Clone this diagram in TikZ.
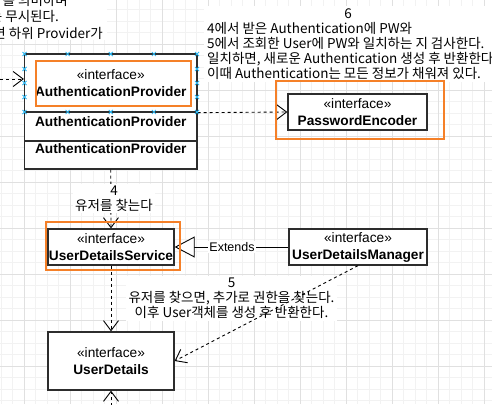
\documentclass[tikz,border=0pt]{standalone}
\usepackage{fontspec}
\setmainfont{Liberation Sans}
\newfontfamily\kr{Noto Sans CJK KR}
\usetikzlibrary{arrows.meta}
\definecolor{orng}{RGB}{245,128,40}
\definecolor{hnd}{RGB}{41,182,242}
\definecolor{gmin}{RGB}{242,242,242}
\definecolor{gmaj}{RGB}{224,224,224}
\definecolor{bord}{RGB}{45,45,45}
\begin{document}
\begin{tikzpicture}[x=1pt,y=-1pt,
  umlbox/.style={draw=bord, line width=1.3pt, fill=white, align=center, inner sep=0pt, font=\fontsize{13.7}{17}\selectfont},
  boxtext/.style={inner sep=0pt, font=\fontsize{13.7}{17}\selectfont\bfseries},
  hl/.style={draw=orng, line width=2pt, inner sep=0pt},
  lbl/.style={fill=white, inner sep=2pt, align=center, font=\kr\fontsize{13.5}{14.8}\selectfont},
  krtext/.style={inner sep=0pt, font=\kr\fontsize{13.5}{14.8}\selectfont},
  bgbox/.style={fill=white, inner sep=0pt},
  dasharrow/.style={draw=black, line width=0.9pt, dash pattern=on 3pt off 3pt, -{Straight Barb[length=10pt,width=15pt,line width=0.9pt]}},
  extends/.style={draw=black, line width=0.9pt, -{Triangle[open, length=20pt, width=21pt, line width=0.9pt, fill=white]}},
  handle/.style={draw=hnd, line width=0.8pt},
]
\path[use as bounding box] (0,0) rectangle (492,404);
\clip (0,0) rectangle (492,404);
\fill[white] (0,0) rectangle (492,404);
% grid
\foreach \i in {0,...,44} {\draw[gmin, line width=0.8pt] ({-21.7+11.5*\i},0) -- ({-21.7+11.5*\i},404);}
\foreach \i in {0,...,36} {\draw[gmin, line width=0.8pt] (0,{-1.7+11.5*\i}) -- (492,{-1.7+11.5*\i});}
\foreach \i in {0,...,11} {\draw[gmaj, line width=0.8pt] ({-21.7+46*\i},0) -- ({-21.7+46*\i},404);}
\foreach \i in {0,...,9} {\draw[gmaj, line width=0.8pt] (0,{-1.7+46*\i}) -- (492,{-1.7+46*\i});}

% top-left partial text
\node[bgbox, anchor=north west, minimum width=107pt, minimum height=40pt] (tlbg) at (0,0) {};
\node[krtext, anchor=base east] (tl1) at (68,5.5) {를 의미하며};
\node[krtext, anchor=base east] (tl2) at (59,22) {는 무시된다.};
\node[krtext, anchor=base east] (tl3) at (103,38.5) {면 하위 Provider가};

% label 6
\node[bgbox, anchor=north west, minimum width=288pt, minimum height=76pt] (l6bg) at (204,6) {};
\node[krtext, anchor=base] (l6n) at (348,19) {6};
\node[krtext, anchor=base west] (l6a) at (207,34) {4에서 받은 Authentication에 PW와};
\node[krtext, anchor=base west] (l6b) at (207,48.8) {5에서 조회한 User에 PW와 일치하는 지 검사한다.};
\node[krtext, anchor=base west] (l6c) at (207,63.6) {일치하면, 새로운 Authentication 생성 후 반환한다.};
\node[krtext, anchor=base west] (l6d) at (207,78.4) {이때 Authentication는 모든 정보가 채워져 있다.};

% AuthenticationProvider
\node[umlbox, minimum width=172.5pt, minimum height=58pt] (ap1) at (110.75,83) {«interface»\\\textbf{AuthenticationProvider}};
\node[umlbox, minimum width=172.5pt, minimum height=29pt] (ap2) at (110.75,126.5) {};
\node[umlbox, minimum width=172.5pt, minimum height=28pt] (ap3) at (110.75,155) {};
\node[boxtext] (ap2t) at (110.75,122) {AuthenticationProvider};
\node[boxtext] (ap3t) at (110.75,149) {AuthenticationProvider};

% other classes
\node[umlbox, minimum width=139pt, minimum height=36pt] (pe) at (357.5,112) {«interface»\\\textbf{PasswordEncoder}};
\node[umlbox, minimum width=126pt, minimum height=36pt] (uds) at (111,247) {«interface»\\\textbf{UserDetailsService}};
\node[umlbox, minimum width=138pt, minimum height=36pt] (udm) at (358,247) {«interface»\\\textbf{UserDetailsManager}};
\node[umlbox, minimum width=126pt, minimum height=58pt] (ud) at (111,361) {«interface»\\\textbf{UserDetails}};

% label 5 (under its crossing connector)
\node[lbl, inner xsep=3pt] (l5) at (231.5,298.5) {5\\유저를 찾으면, 추가로 권한을 찾는다.\\이후 User객체를 생성 후 반환한다.};

% connectors
\coordinate (lin) at (0,79);
\draw[dasharrow] (lin) -- (lin -| ap1.west);
\draw[dasharrow] (ap1.south east) -- (pe.west);
\draw[dasharrow] (ap3.south) -- (uds.north);
\draw[dasharrow] (uds.south) -- (ud.north);
\draw[extends] (udm.west) -- (uds.east);
\draw[dasharrow] (udm.south) -- (ud.east);
\coordinate (bot) at (111,430);
\draw[dasharrow] (bot) -- (ud.south);

% labels on top of connectors
\node[lbl] (l4) at (114,198.5) {4\\유저를 찾는다};
\node[fill=white, inner sep=1.5pt, font=\fontsize{12.5}{14}\selectfont] (ext) at (232,247) {Extends};

% orange highlights
\node[hl, minimum width=155pt, minimum height=45pt] (apo) at (113.5,83.5) {};
\node[hl, minimum width=168pt, minimum height=58pt] (peo) at (360,110) {};
\node[hl, minimum width=134pt, minimum height=48pt] (udso) at (113,246) {};

% selection handles
\foreach \hx in {24.5,67.6,110.75,153.9,197} {
  \draw[handle] (\hx,54) +(-2,-2) -- +(2,2) +(-2,2) -- +(2,-2);
  \draw[handle] (\hx,112) +(-2,-2) -- +(2,2) +(-2,2) -- +(2,-2);
}
\foreach \hy in {69,83,97} {
  \draw[handle] (24.5,\hy) +(-2,-2) -- +(2,2) +(-2,2) -- +(2,-2);
  \draw[handle] (197,\hy) +(-2,-2) -- +(2,2) +(-2,2) -- +(2,-2);
}
\end{tikzpicture}
\end{document}
